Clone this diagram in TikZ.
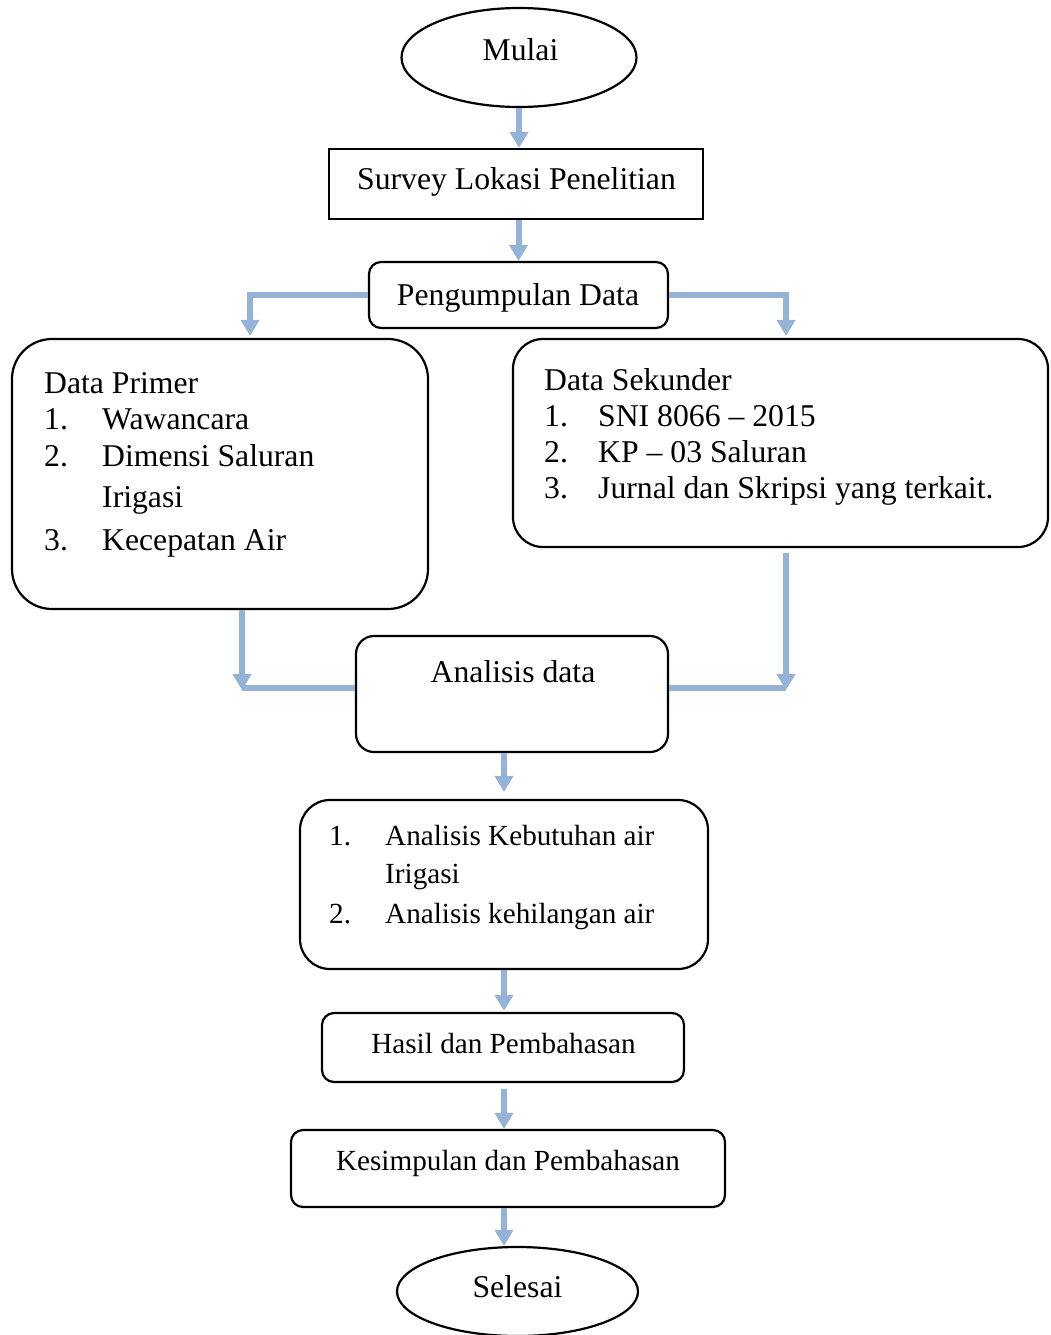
\documentclass[tikz,border=0pt]{standalone}
\usepackage{fontspec}
\setmainfont{Liberation Serif}
\usetikzlibrary{shapes.geometric,arrows.meta}
\definecolor{flowblue}{HTML}{95B3D7}
\newcommand\fbig{\fontsize{31.7}{38}\selectfont}
\newcommand\fsml{\fontsize{29.2}{35}\selectfont}
\begin{document}
\begin{tikzpicture}[x=1pt,y=-1pt,
  box/.style={draw=black,line width=2.2pt,rectangle,inner sep=0pt},
  oval/.style={draw=black,line width=2.2pt,ellipse,inner sep=0pt},
  txt/.style={inner sep=0pt,font=\fbig},
  txs/.style={inner sep=0pt,font=\fsml},
  arr/.style={draw=flowblue,line width=6pt,-{Triangle[width=18pt,length=16pt]}},
  ln/.style={draw=flowblue,line width=6pt}]
\useasboundingbox (0,0) rectangle (1050,1335);
% shapes
\node[oval,minimum width=235pt,minimum height=99pt] (mulai) at (519,57.5) {};
\node[box,minimum width=374pt,minimum height=70pt] (survey) at (516,184) {};
\node[box,rounded corners=12pt,minimum width=299pt,minimum height=66pt] (peng) at (518.5,295) {};
\node[box,rounded corners=40pt,minimum width=416pt,minimum height=270pt] (primer) at (220,474) {};
\node[box,rounded corners=30pt,minimum width=535pt,minimum height=208pt] (sek) at (780.5,443) {};
\node[box,rounded corners=18pt,minimum width=312pt,minimum height=116pt] (anal) at (512,694) {};
\node[box,rounded corners=30pt,minimum width=408pt,minimum height=169pt] (list) at (504,884.5) {};
\node[box,rounded corners=12pt,minimum width=362pt,minimum height=69pt] (hasil) at (503,1047.5) {};
\node[box,rounded corners=12pt,minimum width=434pt,minimum height=77pt] (kes) at (508,1168.5) {};
\node[oval,minimum width=241pt,minimum height=89pt] (selesai) at (517.5,1291.5) {};
% texts
\node[txt,anchor=base] (tmulai) at (520.5,61) {Mulai};
\node[txt,anchor=base] (tsurvey) at (516.5,189) {Survey Lokasi Penelitian};
\node[txt,anchor=base] (tpeng) at (518,305) {Pengumpulan Data};
\node[txt,anchor=base west] (p0) at (44,393) {Data Primer};
\node[txt,anchor=base west] (p1n) at (44,429) {1.};
\node[txt,anchor=base west] (p1) at (102,429) {Wawancara};
\node[txt,anchor=base west] (p2n) at (44,466) {2.};
\node[txt,anchor=base west] (p2) at (102,466) {Dimensi Saluran};
\node[txt,anchor=base west] (p2b) at (102,507) {Irigasi};
\node[txt,anchor=base west] (p3n) at (44,550) {3.};
\node[txt,anchor=base west] (p3) at (102,550) {Kecepatan Air};
\node[txt,anchor=base west] (s0) at (544,390) {Data Sekunder};
\node[txt,anchor=base west] (s1n) at (544,426) {1.};
\node[txt,anchor=base west] (s1) at (598,426) {SNI 8066 – 2015};
\node[txt,anchor=base west] (s2n) at (544,462) {2.};
\node[txt,anchor=base west] (s2) at (598,462) {KP – 03 Saluran};
\node[txt,anchor=base west] (s3n) at (544,498) {3.};
\node[txt,anchor=base west] (s3) at (598,498) {Jurnal dan Skripsi yang terkait.};
\node[txt,anchor=base] (tanal) at (513,682) {Analisis data};
\node[txs,anchor=base west] (l1n) at (329,845) {1.};
\node[txs,anchor=base west] (l1) at (385,845) {Analisis Kebutuhan air};
\node[txs,anchor=base west] (l1b) at (385,883) {Irigasi};
\node[txs,anchor=base west] (l2n) at (329,923) {2.};
\node[txs,anchor=base west] (l2) at (385,923) {Analisis kehilangan air};
\node[txs,anchor=base] (thasil) at (503.5,1053) {Hasil dan Pembahasan};
\node[txs,anchor=base] (tkes) at (508,1170) {Kesimpulan dan Pembahasan};
\node[txt,anchor=base] (tsel) at (517.5,1297) {Selesai};
% connectors
\coordinate (jl) at (242,688);
\coordinate (jr) at (786,688);
\draw[arr] (mulai.south) -- (mulai.south |- survey.north);
\draw[arr] (survey.south -| peng.north) -- (peng.north);
\draw[arr] (peng.west) -| ([xshift=30pt,yshift=2pt]primer.north);
\draw[arr] (peng.east) -| ([xshift=5.5pt,yshift=2pt]sek.north);
\draw[arr] (primer.south -| jl) -- ([yshift=-2pt]jl);
\draw[ln] (jl) -- (anal.west |- jl);
\draw[arr] ([yshift=-5pt]sek.south -| jr) -- ([yshift=-2pt]jr);
\draw[ln] (anal.east |- jr) -- (jr);
\draw[arr,shorten >=7pt] (anal.south -| list.north) -- (list.north);
\draw[arr] (list.south) -- ([yshift=1pt]hasil.north -| list.south);
\draw[arr] ([yshift=-6pt]hasil.south -| list.south) -- (kes.north -| list.south);
\draw[arr] (kes.south -| list.south) -- (selesai.north -| list.south);
\end{tikzpicture}
\end{document}
